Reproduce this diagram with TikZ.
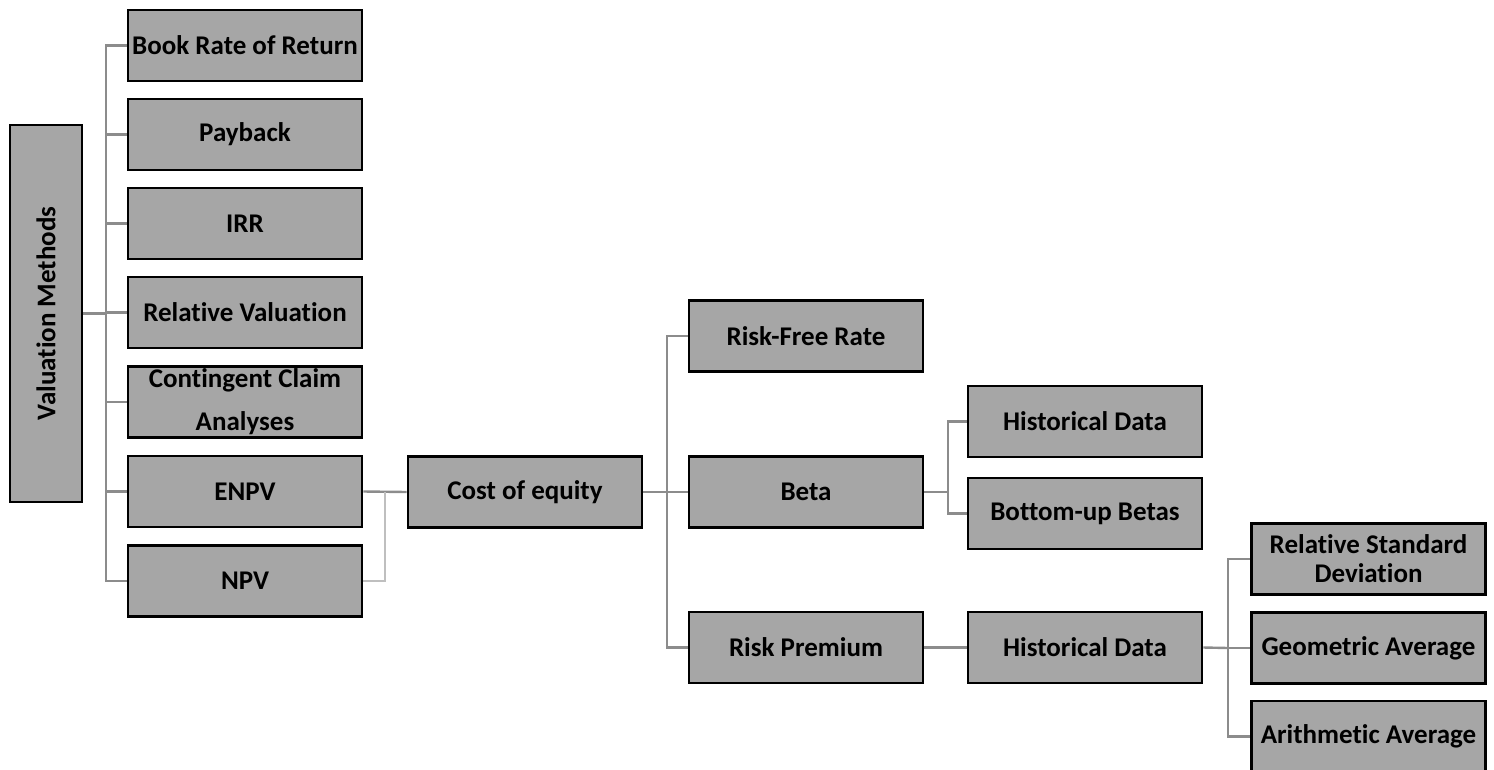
\documentclass[tikz,border=0pt]{standalone}
\usepackage{fontspec}
\setmainfont[Ligatures=CommonOff]{Carlito}
\begin{document}
\begin{tikzpicture}[x=1pt, y=-1pt,
    box/.style={draw=black, line width=2.6pt, fill=black!35, minimum width=234pt,
      minimum height=71pt, inner sep=0pt, align=center,
      font=\fontsize{27}{31}\selectfont\bfseries},
    link/.style={draw=black!45, line width=2.4pt},
    thinlink/.style={draw=black!25, line width=1.6pt}]
    \useasboundingbox (0,0) rectangle (1494,769);

    % first level
    \node[box, minimum width=72pt, minimum height=377pt] (vm) at (46,313.5)
      {\rotatebox{90}{Valuation Methods}};
    \node[box] (brr) at (245,45.5) {Book Rate of Return};
    \node[box] (pay) at (245,134.5) {Payback};
    \node[box] (irr) at (245,223.5) {IRR};
    \node[box] (rv) at (245,312.5) {Relative Valuation};
    \node[box] (cca) at (245,402) {Contingent Claim\\[12pt]Analyses};
    \node[box] (enpv) at (245,491.5) {ENPV};
    \node[box] (npv) at (245,581) {NPV};

    \coordinate (t1) at (106,313.5);
    \draw[link] (vm.east) -- (t1);
    \foreach \n in {brr,pay,irr,rv,cca,enpv,npv}
      \draw[link] (t1) |- (\n.west);

    % cost of equity
    \node[box] (coe) at (525,492) {Cost of equity};
    \draw[link] (enpv.east) -- (coe.west);
    \coordinate (t2) at (385,492);
    \draw[thinlink] (npv.east) -| (t2);

    \node[box] (rfr) at (806,336) {Risk-Free Rate};
    \node[box] (beta) at (806,492) {Beta};
    \node[box] (rp) at (806,647.5) {Risk Premium};
    \coordinate (t3) at (667,492);
    \draw[link] (coe.east) -- (t3);
    \foreach \n in {rfr,beta,rp}
      \draw[link] (t3) |- (\n.west);

    % beta
    \node[box] (hd1) at (1085,421.5) {Historical Data};
    \node[box] (bub) at (1085,513.5) {Bottom-up Betas};
    \coordinate (t4) at (948,492);
    \draw[link] (beta.east) -- (t4);
    \foreach \n in {hd1,bub}
      \draw[link] (t4) |- (\n.west);

    % risk premium
    \node[box] (hd2) at (1085,647.5) {Historical Data};
    \draw[link] (rp.east) -- (hd2.west);

    \node[box] (rsd) at (1368.5,559) {Relative Standard\\[-2pt]Deviation};
    \node[box] (ga) at (1368.5,648) {Geometric Average};
    \node[box] (aa) at (1368.5,736.5) {Arithmetic Average};
    \coordinate (t5) at (1228,648);
    \draw[link] (hd2.east) -- (t5);
    \foreach \n in {rsd,ga,aa}
      \draw[link] (t5) |- (\n.west);
\end{tikzpicture}
\end{document}
